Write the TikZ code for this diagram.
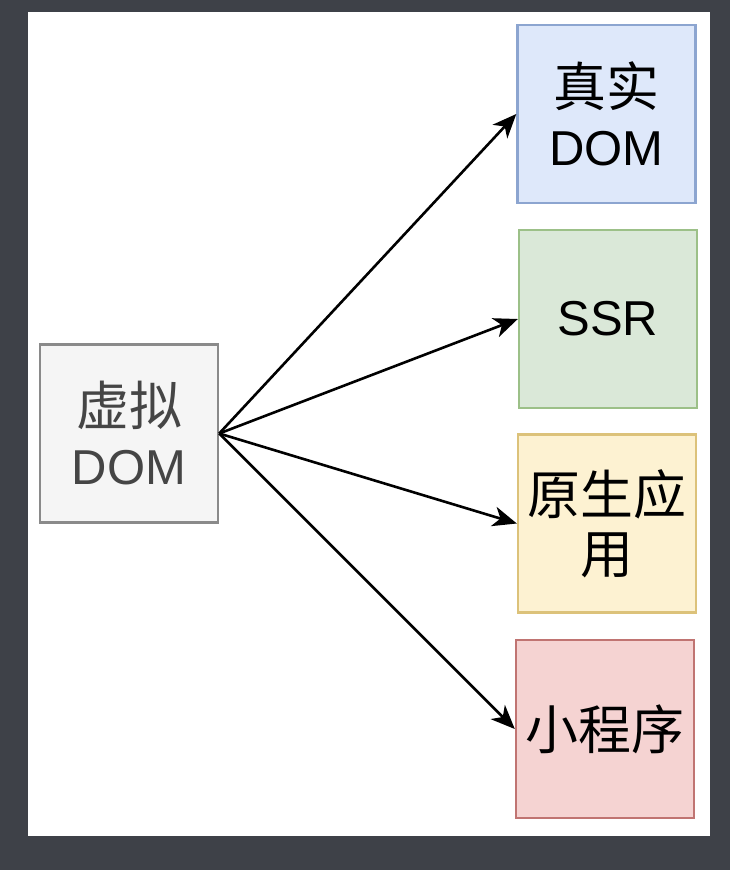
\documentclass[tikz,border=0pt]{standalone}
\usepackage{fontspec}
\setmainfont{Liberation Sans}
\newfontfamily\cjk[Scale=1.08]{Noto Sans CJK SC}
\usetikzlibrary{arrows.meta}
\definecolor{bgdark}{HTML}{3E4148}
\definecolor{grayfill}{HTML}{F5F5F5}
\definecolor{grayline}{HTML}{8A8A8A}
\definecolor{graytext}{HTML}{454545}
\definecolor{bluefill}{HTML}{DEE8FA}
\definecolor{blueline}{HTML}{8CA5D0}
\definecolor{greenfill}{HTML}{DAE8D8}
\definecolor{greenline}{HTML}{9CC088}
\definecolor{yellowfill}{HTML}{FDF2D2}
\definecolor{yellowline}{HTML}{DCC27A}
\definecolor{redfill}{HTML}{F5D3D2}
\definecolor{redline}{HTML}{C07472}
\tikzset{
  boxnode/.style={draw, line width=2.4pt, minimum width=178pt, minimum height=178pt,
    inner sep=0pt, align=center, text width=170pt,
    font=\fontsize{49}{59}\selectfont},
  conn/.style={line width=2.6pt, -{Stealth[length=24pt,width=20pt,inset=7pt]}}
}
\begin{document}
\begin{tikzpicture}[x=1pt,y=-1pt]
\fill[bgdark] (0,0) rectangle (730,870);
\fill[white] (28,12) rectangle (710,836);
\useasboundingbox (0,0) rectangle (730,870);
\node[boxnode, fill=grayfill, draw=grayline, text=graytext] (v) at (129,433.5) {{\cjk 虚拟}\\DOM};
\node[boxnode, fill=bluefill, draw=blueline] (r) at (606.5,114) {{\cjk 真实}\\DOM};
\node[boxnode, fill=greenfill, draw=greenline] (s) at (608,319) {SSR};
\node[boxnode, fill=yellowfill, draw=yellowline] (n) at (607,523.5) {{\cjk 原生应}\\{\cjk 用}};
\node[boxnode, fill=redfill, draw=redline] (m) at (605,729) {{\cjk 小程序}};
\draw[conn] (v.east) -- (r.west);
\draw[conn] (v.east) -- (s.west);
\draw[conn] (v.east) -- (n.west);
\draw[conn] (v.east) -- (m.west);
\end{tikzpicture}
\end{document}
